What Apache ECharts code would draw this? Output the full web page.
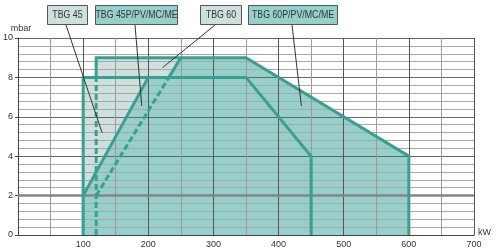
<!DOCTYPE html>
<html><head><meta charset="utf-8">
<script src="https://cdn.jsdelivr.net/npm/echarts@6/dist/echarts.min.js"></script>
<style>html,body{margin:0;padding:0;background:#fff}#c{width:496px;height:251px}</style>
</head><body><div id="c"></div>
<script>
// Envelope data (kW, mbar)
const tbg45 = [[100,0],[100,8],[350,8],[450,4],[450,0]];
const tbg60 = [[120,0],[120,9],[350,9],[600,4],[600,0]];
const tbg45P = [[100,0],[100,2],[200,8],[350,8],[450,4],[450,0]];
const tbg60P = [[120,0],[120,2],[250,9],[350,9],[600,4],[600,0]];
// stroke segments
const solidA = [[100,0],[100,8],[350,8],[450,4],[450,0]];
const solidB = [[100,2],[200,8]];
const solidC = [[120,8],[120,9],[350,9],[600,4],[600,0]];
const solidD = [[231.5,8],[250,9]];
const dashA = [[120,0],[120,8]];
const dashB = [[120,2],[231.5,8]];
const refLine = [[0,2],[700,2]];
const xTicks = [100,200,300,400,500,600,700];
const yTicks = [0,2,4,6,8,10];
// label names and pointer targets (kW, mbar)
const labelNames = ['TBG 45','TBG 45P/PV/MC/ME','TBG 60','TBG 60P/PV/MC/ME'];
const labelTargets = [[129,5.2],[190,6.55],[222,8.5],[435,6.55]];

const LIGHT = '#cde0de', TEAL = '#96d0cb', LINE = '#3a9f90';
const chart = echarts.init(document.getElementById('c'));
const fill = (d, c) => ({type:'line', data:d, symbol:'none', z:1, silent:true,
  lineStyle:{width:0, opacity:0}, areaStyle:{color:c, opacity:1}});
const stroke = (d, dashed) => ({type:'line', data:d, symbol:'none', z:4, silent:true,
  lineStyle:{color:LINE, width:3, type: dashed ? [6,3] : 'solid', cap:'butt', join:'miter'}});
chart.setOption({
  animation:false,
  grid:{left:18, right:22, top:38, bottom:16},
  xAxis:{type:'value', min:0, max:700, interval:100, z:2,
    name:'kW', nameLocation:'end', nameGap:4,
    nameTextStyle:{fontSize:9, color:'#333', fontFamily:'Liberation Sans', verticalAlign:'bottom', padding:[0,0,-2,0]},
    axisLine:{show:true, lineStyle:{color:'#444', width:1}},
    axisTick:{show:false},
    axisLabel:{fontSize:9, color:'#333', fontFamily:'Liberation Sans', margin:5,
      formatter: v => xTicks.includes(v) ? String(v) : ''},
    splitLine:{show:true, lineStyle:{color:'#555', width:1}},
    minorTick:{show:false, splitNumber:2},
    minorSplitLine:{show:true, lineStyle:{color:'#9a9a9a', width:1}}
  },
  yAxis:{type:'value', min:0, max:10, interval:2, z:2,
    name:'mbar', nameLocation:'end', nameGap:5,
    nameTextStyle:{fontSize:9, color:'#333', fontFamily:'Liberation Sans', align:'center', padding:[0,0,0,6]},
    axisLine:{show:true, lineStyle:{color:'#444', width:1}},
    axisTick:{show:true, length:3, inside:false, lineStyle:{color:'#444'}},
    axisLabel:{fontSize:9, color:'#333', fontFamily:'Liberation Sans', margin:5,
      formatter: v => yTicks.includes(v) ? String(v) : ''},
    splitLine:{show:true, lineStyle:{color:'#666', width:1}},
    minorTick:{show:false, splitNumber:5},
    minorSplitLine:{show:true, lineStyle:{color:'#a8a8a8', width:1}}
  },
  series:[
    fill(tbg45, LIGHT), fill(tbg60, LIGHT), fill(tbg45P, TEAL), fill(tbg60P, TEAL),
    {type:'line', data:refLine, symbol:'none', z:3, silent:true, lineStyle:{color:'#858585', width:2.5}},
    stroke(solidA), stroke(solidB), stroke(solidC), stroke(solidD), stroke(dashA, true), stroke(dashB, true)
  ]
});
// annotation boxes (layout in pixels) with leader lines to data targets
const boxes = [{x:47,w:40,f:LIGHT,lx:66},{x:95,w:82,f:TEAL,lx:135},{x:200,w:41,f:LIGHT,lx:215},{x:248,w:89,f:TEAL,lx:292}];
const g = [];
boxes.forEach((b,i)=>{
  const p = chart.convertToPixel({gridIndex:0}, labelTargets[i]);
  g.push({type:'line', z:50, shape:{x1:b.lx, y1:25, x2:p[0], y2:p[1]}, style:{stroke:'#333', lineWidth:1}});
  g.push({type:'rect', z:60, shape:{x:b.x+0.5, y:5.5, width:b.w, height:19}, style:{fill:b.f, stroke:'#555', lineWidth:1}});
  g.push({type:'text', z:61, x:b.x+0.5+b.w/2, y:15, scaleX:0.8,
    style:{text:labelNames[i], fill:'#333', font:'11px "Liberation Sans", sans-serif', align:'center', verticalAlign:'middle'}});
});
chart.setOption({graphic:g});
</script></body></html>
